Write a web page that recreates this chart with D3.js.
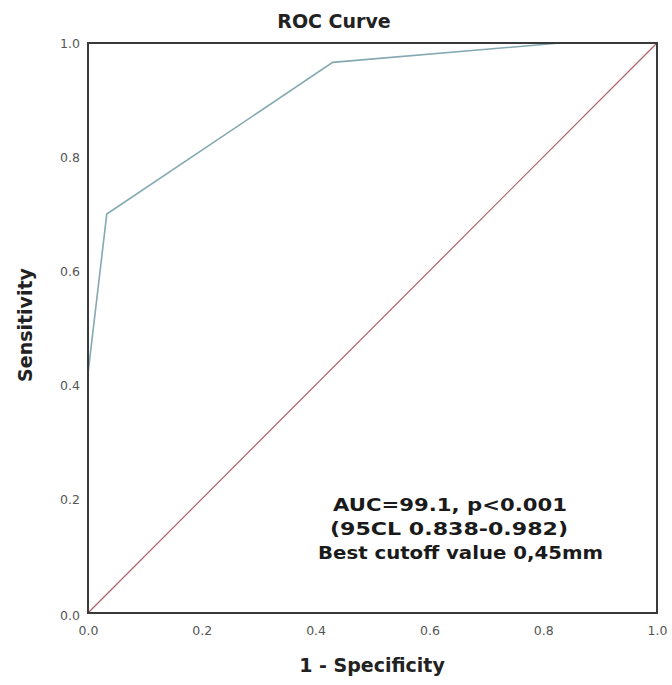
<!DOCTYPE html>
<html><head><meta charset="utf-8">
<script src="https://cdn.jsdelivr.net/npm/d3@7"></script>
<style>body{margin:0;background:#fff}</style>
</head><body><svg id="c" width="672" height="685"></svg>
<script>
const rocFpr = [0, 0, 0.033, 0.43, 0.83, 1];
const rocTpr = [0, 0.42, 0.70, 0.966, 1, 1];
const refLine = [0, 1];
const tickValues = [0, 0.2, 0.4, 0.6, 0.8, 1.0];
const titleText = "ROC Curve";
const xTitle = "1 - Specificity";
const yTitle = "Sensitivity";
const notes = ["AUC=99.1, p<0.001", "(95CL 0.838-0.982)", "Best cutoff value 0,45mm"];

const svg = d3.select("#c");
const L = 88, R = 657, T = 43, B = 613;
const x = d3.scaleLinear().domain([0,1]).range([L,R]);
const y = d3.scaleLinear().domain([0,1]).range([B,T]);

svg.append("rect").attr("width",672).attr("height",685).attr("fill","#fff");

// reference diagonal
svg.append("line").attr("x1",x(refLine[0])).attr("y1",y(refLine[0]))
  .attr("x2",x(refLine[1])).attr("y2",y(refLine[1]))
  .attr("stroke","#b0606a").attr("stroke-width",1.2);

// ROC curve
const pts = rocFpr.map((f,i)=>[f,rocTpr[i]]);
svg.append("path").datum(pts)
  .attr("d", d3.line().x(d=>x(d[0])).y(d=>y(d[1])))
  .attr("fill","none").attr("stroke","#84a9b2").attr("stroke-width",1.6);

// frame
svg.append("rect").attr("x",L).attr("y",T).attr("width",R-L).attr("height",B-T)
  .attr("fill","none").attr("stroke","#3a3a3a").attr("stroke-width",2);

// axes (labels only)
const xa = svg.append("g").attr("transform",`translate(0,${B})`)
  .call(d3.axisBottom(x).tickValues(tickValues).tickFormat(d3.format(".1f")).tickSize(0).tickPadding(13));
const ya = svg.append("g").attr("transform",`translate(${L},0)`)
  .call(d3.axisLeft(y).tickValues(tickValues).tickFormat(d3.format(".1f")).tickSize(0).tickPadding(8));
[xa,ya].forEach(g=>{
  g.select(".domain").remove();
  g.selectAll("text").attr("font-family","DejaVu Sans, sans-serif").attr("font-size",12.5).attr("fill","#555");
});
ya.selectAll("text").filter(d=>d===0).attr("dy","0.55em");

// titles
svg.append("text").attr("x",334).attr("y",28).attr("text-anchor","middle")
  .attr("font-family","DejaVu Sans, sans-serif").attr("font-weight","bold").attr("font-size",19)
  .attr("fill","#222").text(titleText);
svg.append("text").attr("x",372).attr("y",672).attr("text-anchor","middle")
  .attr("font-family","DejaVu Sans, sans-serif").attr("font-weight","bold").attr("font-size",19)
  .attr("fill","#222").text(xTitle);
svg.append("text").attr("transform","translate(32,325) rotate(-90)").attr("text-anchor","middle")
  .attr("font-family","DejaVu Sans, sans-serif").attr("font-weight","bold").attr("font-size",19)
  .attr("fill","#222").text(yTitle);

// annotation
const noteX = [333, 330, 318], noteY = [511, 535, 559], noteW = [234, 238, 285];
notes.forEach((t,i)=>{
  svg.append("text").attr("x",noteX[i]).attr("y",noteY[i])
    .attr("font-family","DejaVu Sans, sans-serif").attr("font-weight","bold").attr("font-size",18)
    .attr("textLength",noteW[i]).attr("lengthAdjust","spacingAndGlyphs")
    .attr("fill","#1a1a1a").text(t);
});
</script></body></html>
